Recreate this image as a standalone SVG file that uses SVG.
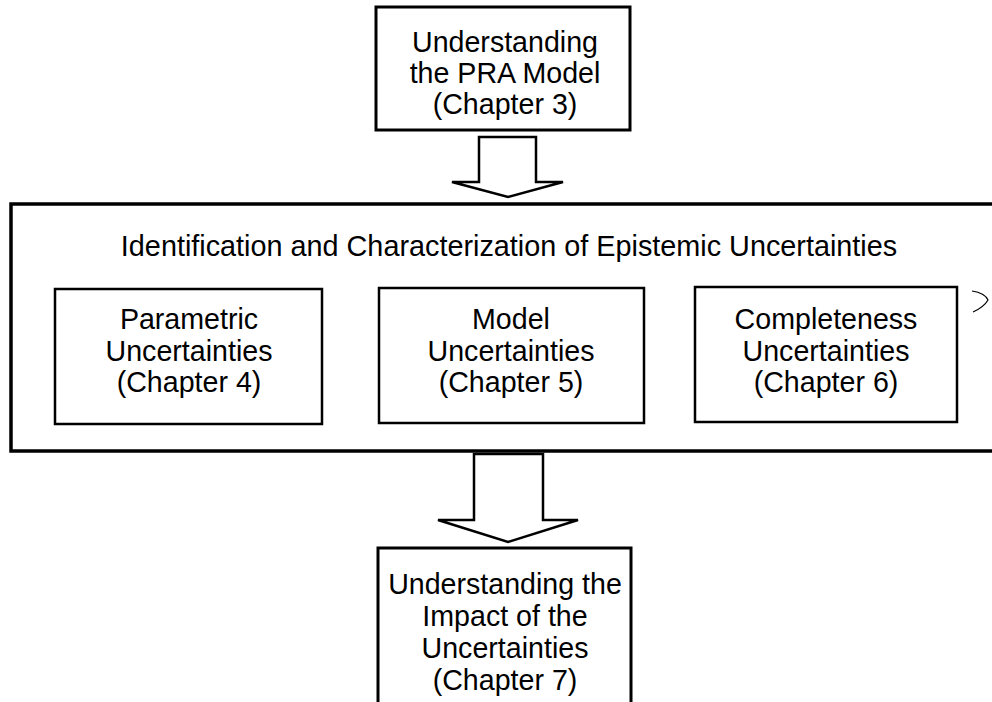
<svg xmlns="http://www.w3.org/2000/svg" width="992" height="702" viewBox="0 0 992 702">
<style>
.bg{fill:#fff}
.box{fill:#fff;stroke:#000;stroke-width:3}
.inner{fill:#fff;stroke:#000;stroke-width:2.5}
.big{fill:none;stroke:#000;stroke-width:3.5}
.arrow{fill:#fff;stroke:#000;stroke-width:2.5;stroke-linejoin:miter}
text{font-family:"Liberation Sans",Arial,sans-serif;font-size:28.6px;fill:#000;text-anchor:middle}
.title{font-size:28.8px}
</style>
<rect class="bg" x="0" y="0" width="992" height="702"/>
<g id="top">
<rect class="box" x="376" y="7" width="254" height="123"/>
<text x="505" y="52">Understanding</text>
<text x="505" y="83">the PRA Model</text>
<text x="505" y="114">(Chapter 3)</text>
</g>
<g id="epistemic">
<rect class="big" x="11" y="204" width="1000" height="247"/>
<text class="title" x="509" y="256">Identification and Characterization of Epistemic Uncertainties</text>
</g>
<g id="parametric">
<rect class="inner" x="55" y="289" width="267" height="135"/>
<text x="189" y="329">Parametric</text>
<text x="189" y="361">Uncertainties</text>
<text x="189" y="392">(Chapter 4)</text>
</g>
<g id="model">
<rect class="inner" x="379" y="288" width="265" height="135"/>
<text x="511" y="329">Model</text>
<text x="511" y="361">Uncertainties</text>
<text x="511" y="392">(Chapter 5)</text>
</g>
<g id="completeness">
<rect class="inner" x="695" y="287" width="262" height="135"/>
<text x="826" y="329">Completeness</text>
<text x="826" y="361">Uncertainties</text>
<text x="826" y="392">(Chapter 6)</text>
</g>
<g id="impact">
<rect class="box" x="378" y="548" width="253" height="170"/>
<text x="505" y="594">Understanding the</text>
<text x="505" y="626">Impact of the</text>
<text x="505" y="658">Uncertainties</text>
<text x="505" y="690">(Chapter 7)</text>
</g>
<g id="connectors">
<polygon class="arrow" points="479,137 536,137 536,182 563,182 508,197 452,182 479,182"/>
<polygon class="arrow" points="474,454 543,454 543,520 578,520 508,542 438,520 474,520"/>
</g>
<path d="M972,291 Q985,293 988,300 Q984,307 973,312" fill="none" stroke="#000" stroke-width="1.2"/>
</svg>
